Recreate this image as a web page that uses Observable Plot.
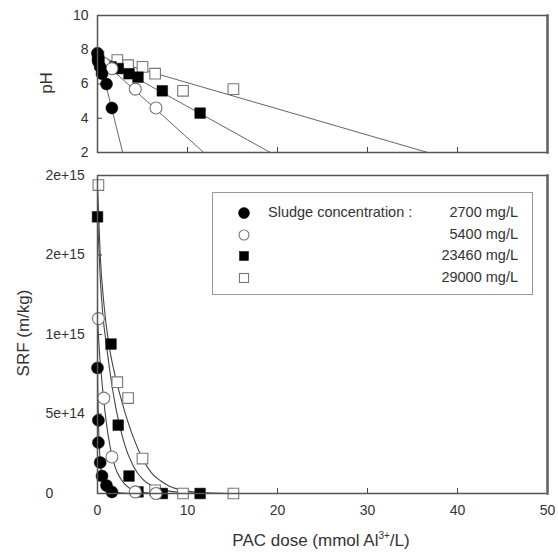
<!DOCTYPE html>
<html>
<head>
<meta charset="utf-8">
<script src="https://cdn.jsdelivr.net/npm/d3@7"></script>
<script src="https://cdn.jsdelivr.net/npm/@observablehq/plot@0.6"></script>
<style>
  body { margin: 0; background: #fff; }
  #wrap { position: relative; width: 558px; height: 556px; font-family: "Liberation Sans", Arial, sans-serif; color: #333; }
  #wrap svg { position: absolute; left: 0; overflow: visible; }
  .ytitle { position: absolute; font-size: 17px; white-space: nowrap; transform: translate(-50%, -50%) rotate(-90deg); }
  .xtitle { position: absolute; font-size: 17px; white-space: nowrap; transform: translate(-50%, -50%); }
  .xtitle sup { font-size: 10px; vertical-align: 7px; line-height: 0; }
  #legend { position: absolute; left: 212px; top: 192px; width: 319px; height: 101px; border: 1.5px solid #999; background: #fff; font-size: 14.5px; }
  #legend .row { position: absolute; left: 0; width: 100%; height: 20px; }
  #legend svg { position: absolute; left: 23px; top: 2px; }
  #legend .lab { position: absolute; left: 55px; top: 1px; }
  #legend .val { position: absolute; right: 14px; top: 1px; }
</style>
</head>
<body>
<div id="wrap"></div>
<script>
// Sludge concentrations (mg/L) and their marker styles
const seriesNames = ["2700 mg/L", "5400 mg/L", "23460 mg/L", "29000 mg/L"];

// PAC dose (mmol Al3+/L) for each sample, with measured pH and SRF (m/kg)
const dose2700 = [0, 0.1, 0.1, 0.3, 0.5, 1.0, 1.6];
const ph2700 = [7.8, 7.5, 7.3, 7.0, 6.6, 6.0, 4.6];
const srf2700 = [0.79e15, 0.46e15, 0.32e15, 0.195e15, 0.11e15, 0.05e15, 0.01e15];

const dose5400 = [0.1, 0.7, 1.6, 4.2, 6.5];
const ph5400 = [7.5, 7.2, 6.9, 5.7, 4.6];
const srf5400 = [1.10e15, 0.60e15, 0.23e15, 0.01e15, 0];

const dose23460 = [0, 1.5, 2.3, 3.5, 4.5, 7.2, 11.4];
const ph23460 = [7.6, 7.0, 6.9, 6.6, 6.4, 5.6, 4.3];
const srf23460 = [1.74e15, 0.94e15, 0.43e15, 0.11e15, 0.01e15, 0, 0];

const dose29000 = [0.1, 2.2, 3.4, 5.0, 6.4, 9.5, 15.1];
const ph29000 = [7.6, 7.4, 7.1, 7.0, 6.6, 5.6, 5.7];
const srf29000 = [1.94e15, 0.70e15, 0.60e15, 0.22e15, 0.02e15, 0, 0];

// Linear pH fits: pH at zero dose, and dose at which the fit reaches pH 2
const phFitStart = [7.9, 7.6, 7.6, 7.6];
const phFitEndDose = [2.8, 11.8, 19.2, 36.7];

// SRF decay fits (dose, SRF)
const fitDose2700 = [0, 0.05, 0.1, 0.2, 0.3, 0.5, 0.8, 1.1, 1.6, 2.5, 4, 50];
const fitSrf2700 = [0.79e15, 0.6e15, 0.46e15, 0.3e15, 0.2e15, 0.11e15, 0.07e15, 0.04e15, 0.015e15, 0.005e15, 0, 0];
const fitDose5400 = [0, 0.2, 0.5, 0.8, 1.2, 1.6, 2.0, 2.5, 3, 4, 5, 7];
const fitSrf5400 = [1.10e15, 0.90e15, 0.70e15, 0.53e15, 0.36e15, 0.24e15, 0.16e15, 0.1e15, 0.06e15, 0.02e15, 0.008e15, 0];
const fitDose23460 = [0, 0.3, 0.6, 1.0, 1.5, 2.0, 2.5, 3.0, 4.0, 5.0, 6.0, 7.0, 8.0, 10, 12];
const fitSrf23460 = [1.74e15, 1.36e15, 1.12e15, 0.93e15, 0.72e15, 0.55e15, 0.42e15, 0.31e15, 0.17e15, 0.09e15, 0.05e15, 0.03e15, 0.015e15, 0.005e15, 0];
const fitDose29000 = [0, 0.3, 0.7, 1.2, 1.8, 2.5, 3.0, 3.5, 4.0, 5.0, 6.0, 7.0, 8.0, 10, 12, 16];
const fitSrf29000 = [1.94e15, 1.5e15, 1.2e15, 0.96e15, 0.78e15, 0.62e15, 0.52e15, 0.43e15, 0.35e15, 0.22e15, 0.13e15, 0.08e15, 0.045e15, 0.015e15, 0.005e15, 0];

// Axis ticks
const doseTicks = [0, 10, 20, 30, 40, 50];
const phTicks = [2, 4, 6, 8, 10];
const srfTicks = [0, 0.5e15, 1e15, 1.5e15, 2e15];
const srfTickLabels = ["0", "5e+14", "1e+15", "2e+15", "2e+15"];

// Build tables
const doses = [dose2700, dose5400, dose23460, dose29000];
const phs = [ph2700, ph5400, ph23460, ph29000];
const srfs = [srf2700, srf5400, srf23460, srf29000];
const samples = seriesNames.map((s, k) => doses[k].map((d, i) => ({series: s, dose: d, ph: phs[k][i], srf: srfs[k][i]})));
const phFits = seriesNames.flatMap((s, k) => [
  {series: s, dose: 0, ph: phFitStart[k]},
  {series: s, dose: phFitEndDose[k], ph: 2}
]);
const fitDoses = [fitDose2700, fitDose5400, fitDose23460, fitDose29000];
const fitSrfs = [fitSrf2700, fitSrf5400, fitSrf23460, fitSrf29000];
const srfFits = seriesNames.flatMap((s, k) => fitDoses[k].map((d, i) => ({series: s, dose: d, srf: fitSrfs[k][i]})));

// Marker styles per series
const styles = [
  {symbol: "circle", fill: "#000", stroke: "#000", strokeWidth: 0.5},
  {symbol: "circle", fill: "#fff", stroke: "#777", strokeWidth: 1.1},
  {symbol: "square", fill: "#000", stroke: "#000", strokeWidth: 0.5},
  {symbol: "square", fill: "#fff", stroke: "#777", strokeWidth: 1.1}
];
const drawOrder = [3, 2, 1, 0];
function markers(yField) {
  return drawOrder.map(k => Plot.dot(samples[k], {x: "dose", y: yField, r: 6, ...styles[k]}));
}

const W = 558, ML = 97, MR = 11;
const innerW = W - ML - MR;
const font = {fontFamily: "Liberation Sans, Arial, sans-serif", fontSize: "14px", color: "#333", background: "transparent", overflow: "visible"};
const tickLen = 5;

// Panel border: thin frame plus a heavier right edge
function border() {
  return [
    Plot.frame({stroke: "#555", strokeWidth: 1.5}),
    Plot.frame({anchor: "right", stroke: "#666", strokeWidth: 2.5})
  ];
}

// pH panel
const topH = 160, topMT = 15, topMB = 8;
const topInnerH = topH - topMT - topMB;
const phPlot = Plot.plot({
  width: W, height: topH, marginLeft: ML, marginRight: MR, marginTop: topMT, marginBottom: topMB,
  style: font,
  x: {domain: [0, 50], axis: null},
  y: {domain: [2, 10]},
  marks: [
    Plot.tickX(doseTicks.slice(1, -1), {x: d => d, insetTop: topInnerH - tickLen, stroke: "#444"}),
    Plot.tickY(phTicks.slice(1, -1), {y: d => d, insetRight: innerW - tickLen, stroke: "#444"}),
    Plot.axisY(phTicks, {tickSize: 0, tickPadding: 9, label: null, fill: "#333"}),
    Plot.line(phFits, {x: "dose", y: "ph", z: "series", stroke: "#666", strokeWidth: 1}),
    ...markers("ph"),
    ...border()
  ]
});
phPlot.style.top = "0px";

// SRF panel
const botH = 396, botMT = 15, botMB = 63;
const botInnerH = botH - botMT - botMB;
const srfPlot = Plot.plot({
  width: W, height: botH, marginLeft: ML, marginRight: MR, marginTop: botMT, marginBottom: botMB,
  style: font,
  x: {domain: [0, 50]},
  y: {domain: [0, 2e15]},
  marks: [
    Plot.tickX(doseTicks.slice(1, -1), {x: d => d, insetTop: botInnerH - tickLen, stroke: "#444"}),
    Plot.tickY(srfTicks.slice(1, -1), {y: d => d, insetRight: innerW - tickLen, stroke: "#444"}),
    Plot.axisY(srfTicks, {tickSize: 0, tickPadding: 52, textAnchor: "start", label: null, fill: "#333",
      tickFormat: d => srfTickLabels[srfTicks.indexOf(d)]}),
    Plot.axisX(doseTicks, {tickSize: 0, tickPadding: 12, label: null, fill: "#333"}),
    Plot.line(srfFits, {x: "dose", y: "srf", z: "series", stroke: "#444", strokeWidth: 1.1, curve: "monotone-x"}),
    ...markers("srf"),
    ...border()
  ]
});
srfPlot.style.top = "160px";

const wrap = document.getElementById("wrap");
wrap.appendChild(phPlot);
wrap.appendChild(srfPlot);

// Axis titles
function addTitle(cls, html, x, y) {
  const el = document.createElement("div");
  el.className = cls;
  el.innerHTML = html;
  el.style.left = x + "px";
  el.style.top = y + "px";
  wrap.appendChild(el);
}
addTitle("ytitle", "pH", 47, 83);
addTitle("ytitle", "SRF (m/kg)", 24, 333);
addTitle("xtitle", "PAC dose (mmol Al<sup>3+</sup>/L)", 321, 541);

// Legend
const legend = document.createElement("div");
legend.id = "legend";
seriesNames.forEach((name, k) => {
  const row = document.createElement("div");
  row.className = "row";
  row.style.top = (10 + k * 21.5) + "px";
  const st = styles[k];
  const sym = st.symbol === "circle"
    ? `<circle cx="8" cy="8" r="${k === 0 ? 5.5 : 5}" fill="${st.fill}" stroke="${st.stroke}" stroke-width="${st.strokeWidth}"/>`
    : `<rect x="3.5" y="3.5" width="9" height="9" fill="${st.fill}" stroke="${st.stroke}" stroke-width="${st.strokeWidth}"/>`;
  row.innerHTML = `<svg width="16" height="16">${sym}</svg>` +
    (k === 0 ? `<span class="lab">Sludge concentration :</span>` : "") +
    `<span class="val">${name}</span>`;
  legend.appendChild(row);
});
wrap.appendChild(legend);
</script>
</body>
</html>
